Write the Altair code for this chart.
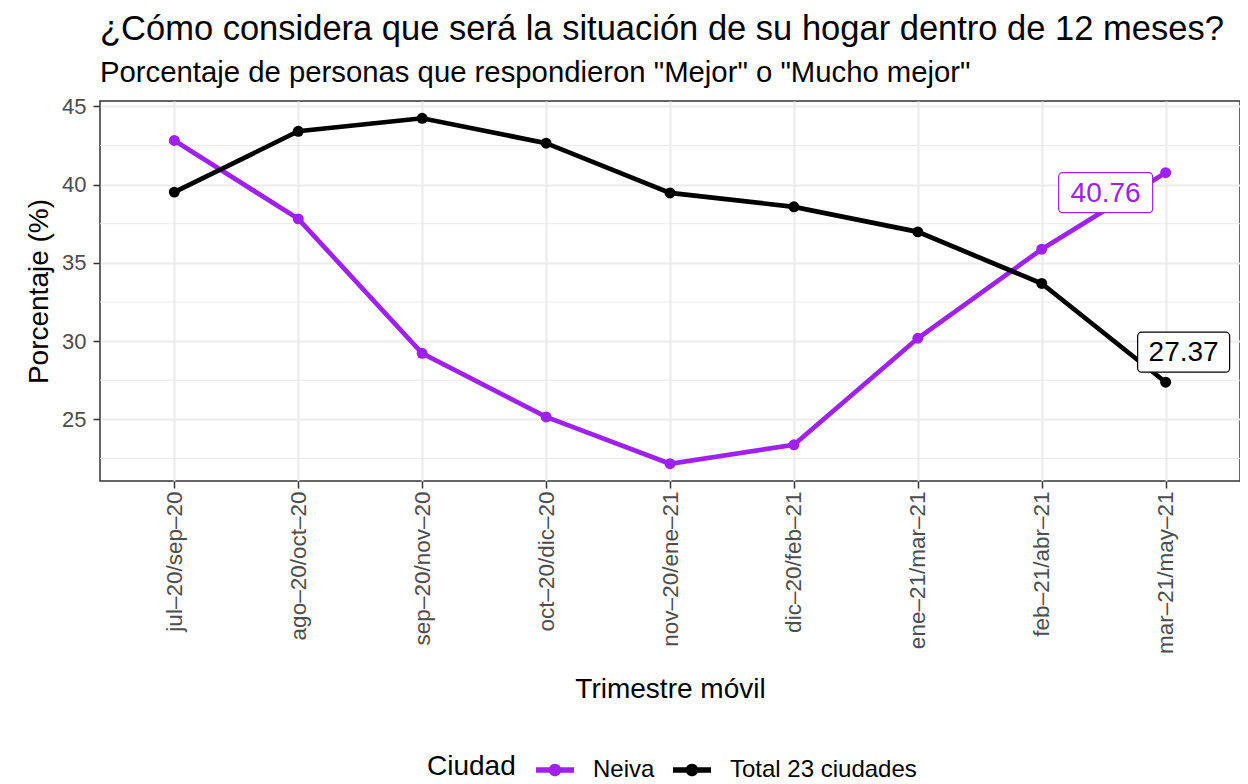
import altair as alt
import pandas as pd

periodos = ["jul–20/sep–20", "ago–20/oct–20", "sep–20/nov–20", "oct–20/dic–20",
            "nov–20/ene–21", "dic–20/feb–21", "ene–21/mar–21", "feb–21/abr–21",
            "mar–21/may–21"]
neiva = [42.82, 37.81, 29.22, 25.15, 22.16, 23.37, 30.18, 35.87, 40.76]
total = [39.52, 43.41, 44.24, 42.65, 39.47, 38.58, 36.98, 33.68, 27.37]
ciudades = ["Neiva", "Total 23 ciudades"]
colores = ["#A020F0", "#000000"]
y_major = [25, 30, 35, 40, 45]
y_minor = [22.5, 27.5, 32.5, 37.5, 42.5]

rows = []
for c, vals in zip(ciudades, [neiva, total]):
    for p, v in zip(periodos, vals):
        rows.append({"periodo": p, "ciudad": c, "valor": v})
df = pd.DataFrame(rows)
df_minor = pd.DataFrame({"valor": y_minor})

allv = neiva + total
rng = max(allv) - min(allv)
ydom = [min(allv) - 0.05 * rng, max(allv) + 0.05 * rng]

W, H = 1140, 380
FONT = "Liberation Sans"

x_axis = alt.Axis(title="Trimestre móvil", labelAngle=-90, labelFontSize=22.5,
                  labelColor="#4D4D4D", labelPadding=3, tickSize=7, tickWidth=1.5,
                  tickColor="#333333", domain=False, grid=True, gridColor="#EBEBEB",
                  gridWidth=2, titleFontSize=28, titleFontWeight="normal",
                  titleColor="black", titleY=216, titleBaseline="alphabetic")
y_axis = alt.Axis(title="Porcentaje (%)", values=y_major, labelFontSize=22,
                  labelColor="#4D4D4D", labelPadding=7, tickSize=7, tickWidth=1.5,
                  tickColor="#333333", domain=False, grid=True, gridColor="#EBEBEB",
                  gridWidth=2, titleFontSize=28, titleFontWeight="normal",
                  titleColor="black", titleX=-47, titleY=H / 2, titleBaseline="bottom")

x = alt.X("periodo:N", sort=periodos, scale=alt.Scale(type="point", padding=0.6), axis=x_axis)
yscale = alt.Scale(domain=ydom, nice=False, zero=False)
y = alt.Y("valor:Q", scale=yscale, axis=y_axis)

sym = ("M-1,-0.14L-0.3,-0.14L-0.3,0.14L-1,0.14Z "
       "M0.3,-0.14L1,-0.14L1,0.14L0.3,0.14Z "
       "M-0.33,0A0.33,0.33,0,1,1,0.33,0A0.33,0.33,0,1,1,-0.33,0Z")

legend = alt.Legend(title="Ciudad", orient="none", direction="horizontal",
                    legendX=327, legendY=650, titleOrient="left", titleAnchor="middle",
                    titleBaseline="middle", symbolType=sym, symbolSize=1444,
                    symbolStrokeWidth=0, labelFontSize=24, titleFontSize=28,
                    titleFontWeight="normal", titleColor="black", labelColor="black",
                    columnPadding=18, titlePadding=20, labelOffset=19, labelLimit=0,
                    labelFont=FONT, titleFont=FONT)

# the fill scale (points, legend) lists the cities explicitly; the stroke scale (lines)
# takes the same cities from the data, so the two legends are not merged
stroke_enc = alt.Stroke("ciudad:N", scale=alt.Scale(range=colores), legend=None)
fill_enc = alt.Fill("ciudad:N", scale=alt.Scale(domain=ciudades, range=colores), legend=legend)

base = alt.Chart(df)

minor = alt.Chart(df_minor).mark_rule(color="#EBEBEB", strokeWidth=1).encode(y=y)

lines = base.mark_line(strokeWidth=4.7).encode(x=x, y=y, stroke=stroke_enc)
points = base.mark_point(filled=True, size=120, opacity=1, strokeWidth=0).encode(
    x=x, y=y, fill=fill_enc)

last = periodos[-1]
lab_n = base.transform_filter((alt.datum.ciudad == ciudades[0]) & (alt.datum.periodo == last))
lab_t = base.transform_filter((alt.datum.ciudad == ciudades[1]) & (alt.datum.periodo == last))

box_n = lab_n.mark_rect(width=94, height=40, cornerRadius=4, fill="white", stroke=colores[0],
                        strokeWidth=1.2, xOffset=-60, yOffset=20).encode(x=x, y=y)
txt_n = lab_n.mark_text(fontSize=28, color=colores[0], xOffset=-60, yOffset=21,
                        baseline="middle", font=FONT).encode(
    x=x, y=y, text=alt.Text("valor:Q", format=".2f"))
box_t = lab_t.mark_rect(width=92, height=40, cornerRadius=4, fill="white", stroke=colores[1],
                        strokeWidth=1.2, xOffset=18, yOffset=-30).encode(x=x, y=y)
txt_t = lab_t.mark_text(fontSize=28, color=colores[1], xOffset=18, yOffset=-29,
                        baseline="middle", font=FONT).encode(
    x=x, y=y, text=alt.Text("valor:Q", format=".2f"))

chart = alt.layer(minor, lines, points, box_n, txt_n, box_t, txt_t).properties(
    width=W, height=H,
    title=alt.TitleParams(
        text="¿Cómo considera que será la situación de su hogar dentro de 12 meses?",
        subtitle='Porcentaje de personas que respondieron "Mejor" o "Mucho mejor"',
        anchor="start", frame="group", fontSize=34.5, subtitleFontSize=29.3,
        font=FONT, subtitleFont=FONT, fontWeight="normal", color="black",
        subtitleColor="black", offset=6, subtitlePadding=12),
    padding={"left": 92, "top": 93, "right": 0, "bottom": 303},
    autosize=alt.AutoSizeParams(type="none"),
).configure(font=FONT).configure_view(stroke="#333333", strokeWidth=1.5)

chart.save("out.html", embed_options={"renderer": "svg", "actions": False})
